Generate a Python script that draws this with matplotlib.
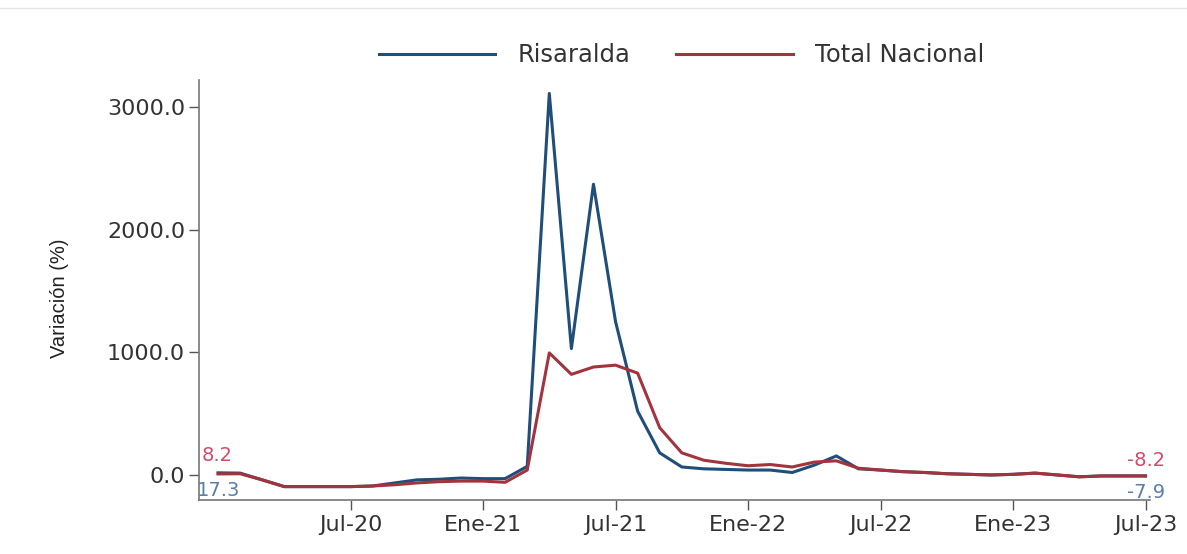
import matplotlib.pyplot as plt
import matplotlib.lines as mlines

# Monthly variation (%), Jan-20 .. Jul-23
meses = ['Ene-20', 'Feb-20', 'Mar-20', 'Abr-20', 'May-20', 'Jun-20', 'Jul-20', 'Ago-20', 'Sep-20', 'Oct-20', 'Nov-20', 'Dic-20',
         'Ene-21', 'Feb-21', 'Mar-21', 'Abr-21', 'May-21', 'Jun-21', 'Jul-21', 'Ago-21', 'Sep-21', 'Oct-21', 'Nov-21', 'Dic-21',
         'Ene-22', 'Feb-22', 'Mar-22', 'Abr-22', 'May-22', 'Jun-22', 'Jul-22', 'Ago-22', 'Sep-22', 'Oct-22', 'Nov-22', 'Dic-22',
         'Ene-23', 'Feb-23', 'Mar-23', 'Abr-23', 'May-23', 'Jun-23', 'Jul-23']

risaralda = [17.3, 15, -40, -95, -95, -95, -95, -90, -65, -40, -35, -25,
             -30, -30, 70, 3110, 1030, 2370, 1250, 520, 180, 65, 50, 45,
             40, 40, 20, 80, 155, 50, 40, 27, 20, 10, 5, 0,
             5, 15, 0, -15, -8, -8, -7.9]

nacional = [8.2, 10, -40, -95, -95, -95, -95, -90, -80, -65, -55, -50,
            -50, -60, 40, 995, 820, 880, 895, 830, 385, 180, 120, 95,
            75, 85, 65, 105, 115, 55, 40, 27, 20, 10, 5, 0,
            5, 15, 0, -15, -8, -8, -8.2]

tick_pos = [6, 12, 18, 24, 30, 36, 42]
tick_labels = ['Jul-20', 'Ene-21', 'Jul-21', 'Ene-22', 'Jul-22', 'Ene-23', 'Jul-23']

azul = '#1f4e7a'
rojo = '#a3333d'

plt.rcParams['font.family'] = ['DejaVu Sans']

fig = plt.figure(figsize=(11.87, 5.54), dpi=100)
ax = fig.add_axes([0.1677, 0.0975, 0.8011, 0.758])

x = list(range(len(meses)))
ax.plot(x, risaralda, color=azul, linewidth=2.2)
ax.plot(x, nacional, color=rojo, linewidth=2.2)

ax.set_xlim(-0.86, 42.2)
ax.set_ylim(-204, 3219)
ax.set_yticks([0, 1000, 2000, 3000])
ax.set_yticklabels(['0.0', '1000.0', '2000.0', '3000.0'])
ax.set_xticks(tick_pos)
ax.set_xticklabels(tick_labels)
ax.tick_params(axis='both', colors='#555555', labelcolor='#333333', labelsize=16, length=7, width=1)
ax.tick_params(axis='x', pad=4)
ax.tick_params(axis='y', pad=3)

for s in ['top', 'right']:
    ax.spines[s].set_visible(False)
for s in ['left', 'bottom']:
    ax.spines[s].set_color('#777777')
    ax.spines[s].set_linewidth(1.2)

ax.set_ylabel('Variación (%)', family=['Liberation Sans Narrow', 'Liberation Sans'], fontsize=14.5, color='#222222')
ax.yaxis.set_label_coords(-0.137, 0.48)

# start / end value labels
ax.text(0 - 0.75, nacional[0] + 70, f'{nacional[0]:.1f}', color='#d44a6a', fontsize=14, ha='left', va='bottom')
ax.text(0 - 0.95, risaralda[0] - 70, f'{risaralda[0]:.1f}', color='#5a7fa8', fontsize=14, ha='left', va='top')
ax.text(42 + 0.9, nacional[-1] + 45, f'{nacional[-1]:.1f}', color='#d44a6a', fontsize=14, ha='right', va='bottom')
ax.text(42 + 0.9, risaralda[-1] - 60, f'{risaralda[-1]:.1f}', color='#5a7fa8', fontsize=14, ha='right', va='top')

# legend on top
h1 = mlines.Line2D([], [], color=azul, linewidth=2.2)
h2 = mlines.Line2D([], [], color=rojo, linewidth=2.2)
fig.legend([h1, h2], ['Risaralda', 'Total Nacional'], loc='center', bbox_to_anchor=(0.574, 0.90),
           ncol=2, frameon=False, fontsize=17.5, handlelength=4.8, handletextpad=0.9, columnspacing=1.9,
           labelcolor='#333333')

# thin border line at the top of the image
fig.add_artist(mlines.Line2D([0, 1], [0.985, 0.985], color='#e6e6e6', linewidth=1))

plt.savefig('out.png', dpi=100)
